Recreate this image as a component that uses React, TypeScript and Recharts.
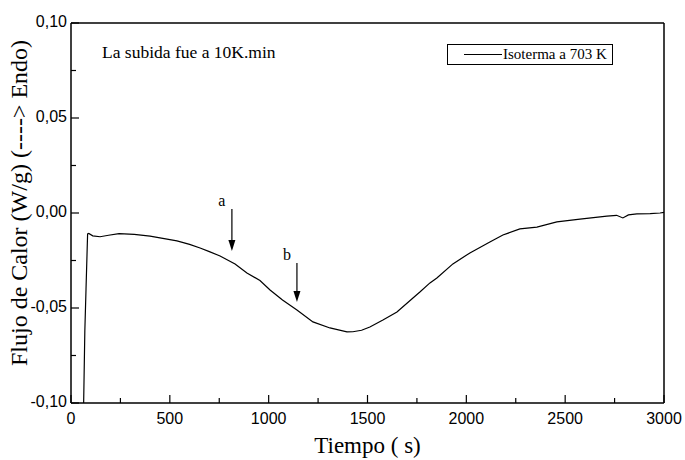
import { Legend, Line, LineChart, ReferenceDot, ReferenceLine, XAxis, YAxis } from "recharts";

// Tiempo (s) vs Flujo de Calor (W/g), isotherm at 703 K
const time = [
  64, 70, 76, 84, 90, 110, 147, 190, 243, 320, 400, 450, 536, 600, 653, 700, 754, 830, 890, 956,
  1007, 1070, 1143, 1224, 1310, 1396, 1426, 1470, 1512, 1578, 1649, 1730, 1765, 1816, 1851, 1932,
  2018, 2119, 2185, 2271, 2357, 2458, 2575, 2711, 2760, 2792, 2820, 2863, 2930, 2980, 3000,
];
const flow = [
  -0.1, -0.062, -0.04, -0.011, -0.0108, -0.012, -0.0125, -0.0117, -0.0109, -0.0113, -0.0122,
  -0.0131, -0.0147, -0.0165, -0.0184, -0.0203, -0.0226, -0.0268, -0.0316, -0.0355, -0.0405,
  -0.0458, -0.051, -0.0573, -0.0605, -0.0626, -0.0625, -0.0617, -0.06, -0.0563, -0.0521, -0.0447,
  -0.0416, -0.0368, -0.0342, -0.0268, -0.021, -0.0153, -0.0116, -0.0084, -0.0074, -0.0047, -0.0032,
  -0.0016, -0.0012, -0.0026, -0.001, -0.0005, -0.0003, 0.0, 0.0003,
];

const xTicks = [0, 250, 500, 750, 1000, 1250, 1500, 1750, 2000, 2250, 2500, 2750, 3000];
const yTicks = [-0.1, -0.075, -0.05, -0.025, 0, 0.025, 0.05, 0.075, 0.1];

// arrows: [time, top value, tip value, label]
const arrows: [number, number, number, string][] = [
  [814, 0.0021, -0.02, "a"],
  [1143, -0.0263, -0.0468, "b"],
];

const data = time.map((t, i) => ({ t, v: flow[i] }));

const serif = "'Liberation Serif', 'Times New Roman', serif";
const sans = "'Liberation Sans', Arial, sans-serif";

function XTick({ x, y, payload }: any) {
  const major = payload.value % 500 === 0;
  return (
    <g>
      <line x1={x} y1={y} x2={x} y2={y - (major ? 8 : 5)} stroke="#000" strokeWidth={1.2} />
      {major && (
        <text x={x} y={y + 17} textAnchor="middle" dominantBaseline="middle" fontFamily={sans} fontSize={16} fill="#000">
          {payload.value}
        </text>
      )}
    </g>
  );
}

function YTick({ x, y, payload }: any) {
  const v = Math.round(payload.value * 1000) / 1000;
  const major = Math.abs(Math.round(v * 1000) % 50) === 0;
  return (
    <g>
      <line x1={x} y1={y} x2={x + (major ? 8 : 5)} y2={y} stroke="#000" strokeWidth={1.2} />
      {major && (
        <text x={x - 4} y={y} textAnchor="end" dominantBaseline="middle" fontFamily={sans} fontSize={16} fill="#000">
          {v.toFixed(2).replace(".", ",")}
        </text>
      )}
    </g>
  );
}

function Arrow({ x1, y1, y2, label }: any) {
  return (
    <g>
      <line x1={x1} y1={y1} x2={x1} y2={y2 - 8} stroke="#000" strokeWidth={1.2} />
      <polygon points={`${x1 - 3.5},${y2 - 11} ${x1 + 3.5},${y2 - 11} ${x1},${y2}`} fill="#000" />
      <text x={x1 - 10} y={y1 - 3} textAnchor="middle" fontFamily={serif} fontSize={16} fill="#000">
        {label}
      </text>
    </g>
  );
}

function LegendBox() {
  return (
    <div
      style={{
        width: 164,
        height: 19,
        border: "1px solid #000",
        background: "#fff",
        position: "relative",
        fontFamily: serif,
        fontSize: 15,
        lineHeight: "19px",
      }}
    >
      <span style={{ position: "absolute", left: 16, top: 9, width: 38, borderTop: "1px solid #000" }} />
      <span style={{ position: "absolute", left: 55, top: 0, whiteSpace: "nowrap" }}>Isoterma a 703 K</span>
    </div>
  );
}

export default function App() {
  return (
    <div style={{ position: "fixed", left: 0, top: 0, width: 685, height: 460, background: "#fff" }}>
      <LineChart width={685} height={460} data={data} margin={{ top: 23, right: 21, bottom: 0, left: 0 }}>
        <XAxis
          dataKey="t"
          type="number"
          domain={[0, 3000]}
          ticks={xTicks}
          interval={0}
          height={57}
          tickSize={0}
          tickMargin={0}
          tick={<XTick />}
          axisLine={{ stroke: "#000", strokeWidth: 1.5 }}
          label={{
            content: ({ viewBox }: any) => (
              <text
                x={viewBox.x + viewBox.width / 2}
                y={viewBox.y + 50}
                textAnchor="middle"
                fontFamily={serif}
                fontSize={23}
                fill="#000"
              >
                Tiempo ( s)
              </text>
            ),
          }}
        />
        <YAxis
          type="number"
          domain={[-0.1, 0.1]}
          ticks={yTicks}
          interval={0}
          width={71}
          allowDataOverflow
          tickSize={0}
          tickMargin={0}
          tick={<YTick />}
          axisLine={{ stroke: "#000", strokeWidth: 1.5 }}
          label={{
            content: ({ viewBox }: any) => {
              const cx = 21;
              const cy = viewBox.y + viewBox.height / 2 - 10;
              return (
                <text
                  x={cx}
                  y={cy}
                  transform={`rotate(-90 ${cx} ${cy})`}
                  textAnchor="middle"
                  dominantBaseline="middle"
                  fontFamily={serif}
                  fontSize={24}
                  fill="#000"
                >
                  Flujo de Calor (W/g) (----&gt; Endo)
                </text>
              );
            },
          }}
        />
        <ReferenceLine y={0.1} stroke="#000" strokeWidth={1.5} />
        <ReferenceLine x={3000} stroke="#000" strokeWidth={1.5} />
        <ReferenceDot
          x={157}
          y={0.0847}
          r={0}
          fill="none"
          stroke="none"
          label={{ value: "La subida fue a 10K.min", position: "right", offset: 0, fontFamily: serif, fontSize: 17.5, fill: "#000" }}
        />
        {arrows.map(([t, top, tip, lab]) => (
          <ReferenceLine
            key={lab}
            segment={[
              { x: t, y: top },
              { x: t, y: tip },
            ]}
            shape={(p: any) => <Arrow x1={p.x1} y1={Math.min(p.y1, p.y2)} y2={Math.max(p.y1, p.y2)} label={lab} />}
          />
        ))}
        <Legend
          content={<LegendBox />}
          wrapperStyle={{ position: "absolute", left: 447, top: 44, width: 0, height: 0, overflow: "visible" }}
        />
        <Line
          type="linear"
          dataKey="v"
          stroke="#000"
          strokeWidth={1.2}
          dot={false}
          isAnimationActive={false}
        />
      </LineChart>
    </div>
  );
}
